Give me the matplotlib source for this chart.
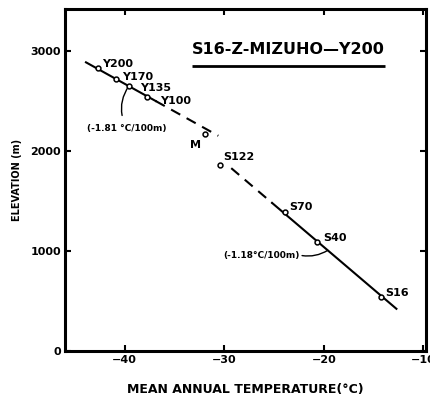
import matplotlib
matplotlib.use("Agg")
import matplotlib.pyplot as plt
import numpy as np

# station temperatures (deg C) and elevations (m)
stations = ["Y200", "Y170", "Y135", "Y100", "M", "S122", "S70", "S40", "S16"]
temps = [-42.7, -40.9, -39.6, -37.8, -31.9, -30.4, -23.9, -20.7, -14.2]
elevs = [2835, 2725, 2655, 2540, 2170, 1865, 1390, 1095, 540]

# lapse-rate lines: gradient in deg C / 100 m, anchored at (T0, E0)
rate_inland = -1.81
anchor_inland = (-40.26, 2687)
solid_inland = [-43.9, -36.9]
dashed_inland = [-36.9, -30.6]

rate_coast = -1.18
anchor_coast = (-19.62, 1009)
dashed_coast = [-29.3, -25.2]
solid_coast = [-25.2, -12.7]

x_ticks = [-40, -30, -20, -10]
y_ticks = [0, 1000, 2000, 3000]

# label offsets in pixels (dx, dy, ha)
label_offsets = {
    "Y200": (4, 4, "left"), "Y170": (6, 2, "left"), "Y135": (11, -2, "left"),
    "Y100": (13, -4, "left"), "M": (-4, -11, "right"), "S122": (3, 8, "left"),
    "S70": (4, 5, "left"), "S40": (6, 4, "left"), "S16": (4, 4, "left"),
}


def lapse_line(ts, rate, anchor):
    ts = np.array(ts)
    return anchor[1] + (ts - anchor[0]) * (100.0 / rate)


fig = plt.figure(figsize=(4.31, 3.98), dpi=100)
ax = fig.add_axes([0.151, 0.118, 0.838, 0.859])

ax.plot(solid_inland, lapse_line(solid_inland, rate_inland, anchor_inland),
        color="black", lw=1.5)
ax.plot(dashed_inland, lapse_line(dashed_inland, rate_inland, anchor_inland),
        color="black", lw=1.5, dashes=(5, 3.5))
ax.plot(dashed_coast, lapse_line(dashed_coast, rate_coast, anchor_coast),
        color="black", lw=1.5, dashes=(5, 3.5))
ax.plot(solid_coast, lapse_line(solid_coast, rate_coast, anchor_coast),
        color="black", lw=1.5)

ax.plot(temps, elevs, "o", ms=3.5, mfc="white", mec="black", mew=1.1, zorder=5)

for name, t, e in zip(stations, temps, elevs):
    dx, dy, ha = label_offsets[name]
    ax.annotate(name, (t, e), xytext=(dx, dy), textcoords="offset pixels",
                ha=ha, va="center", fontsize=8, fontweight="bold")

# gradient labels with curved leaders
t1 = -39.6
ax.annotate("(-1.81 \u00b0C/100m)", xy=(t1, lapse_line([t1], rate_inland, anchor_inland)[0]),
            xytext=(-39.8, 2230), ha="center", va="center", fontsize=6.5,
            fontweight="bold",
            arrowprops=dict(arrowstyle="-", color="black", lw=1,
                            shrinkA=4, shrinkB=0,
                            connectionstyle="arc3,rad=-0.3"))
t2 = -19.6
ax.annotate("(-1.18\u00b0C/100m)", xy=(t2, lapse_line([t2], rate_coast, anchor_coast)[0]),
            xytext=(-26.3, 960), ha="center", va="center", fontsize=6.5,
            fontweight="bold",
            arrowprops=dict(arrowstyle="-", color="black", lw=1,
                            shrinkA=0, shrinkB=0, relpos=(1.0, 0.5),
                            connectionstyle="arc3,rad=0.2"))

# profile title with underline
ax.text(0.617, 0.882, "S16-Z-MIZUHO\u2014Y200", transform=ax.transAxes,
        ha="center", va="center", fontsize=11.5, fontweight="bold")
ax.plot([0.352, 0.886], [0.834, 0.834], transform=ax.transAxes,
        color="black", lw=2, solid_capstyle="butt")

ax.set_xlim(-46, -9.7)
ax.set_ylim(0, 3420)
ax.set_xticks(x_ticks)
ax.set_yticks(y_ticks)
ax.set_xticklabels(["\u221240", "\u221230", "\u221220", "\u221210"])
ax.tick_params(direction="in", length=4, width=1.5, top=True, right=True,
               labelsize=8, pad=3)
for lbl in ax.get_xticklabels() + ax.get_yticklabels():
    lbl.set_fontweight("bold")
for sp in ax.spines.values():
    sp.set_linewidth(2.2)

ax.set_xlabel("MEAN ANNUAL TEMPERATURE(\u00b0C)", fontsize=9,
              fontweight="bold", labelpad=13)
ax.set_ylabel("ELEVATION (m)", fontsize=7, fontweight="bold", labelpad=6)

fig.savefig("out.png", dpi=100)
